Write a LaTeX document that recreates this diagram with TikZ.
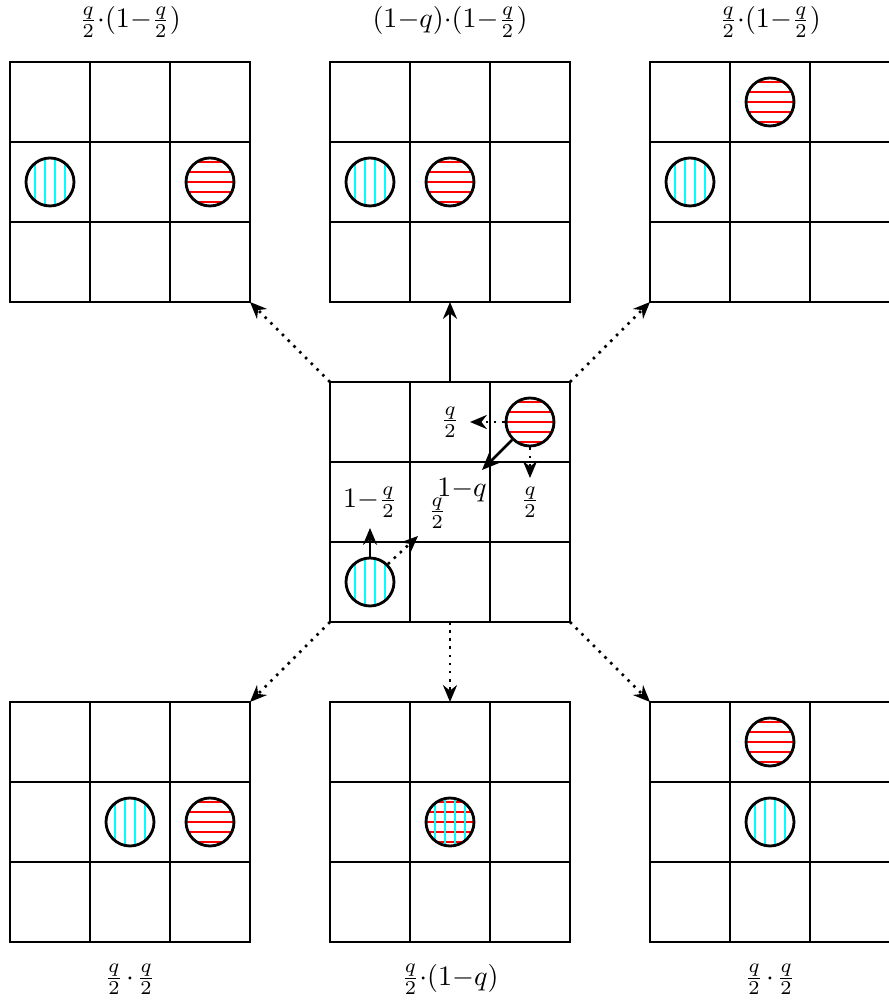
\documentclass[tikz,border=0pt]{standalone}
\usetikzlibrary{arrows.meta,positioning,calc}
\definecolor{hatchcyan}{RGB}{0,255,255}
\definecolor{hatchred}{RGB}{255,0,0}

\begin{document}
\begin{tikzpicture}[
  >={Stealth[length=6pt,width=5pt]},
  board/.style={draw=black, line width=1pt, rectangle, minimum size=3cm, inner sep=0pt, outer sep=0pt},
  boardlines/.style={draw=black, line width=1pt, step=1cm},
  ball/.style={circle, draw=black, line width=1pt, minimum size=0.6cm, inner sep=0pt},
  blueball/.style={ball, path picture={
      \foreach \k in {-0.1875,-0.0625,0.0625,0.1875}
        \draw[hatchcyan, line width=0.6pt] ([xshift=\k cm]path picture bounding box.south) -- ([xshift=\k cm]path picture bounding box.north);}},
  redball/.style={ball, path picture={
      \foreach \k in {-0.25,-0.125,0,0.125,0.25}
        \draw[hatchred, line width=0.6pt] ([yshift=\k cm]path picture bounding box.west) -- ([yshift=\k cm]path picture bounding box.east);}},
  bothball/.style={ball, path picture={
      \foreach \k in {-0.25,-0.125,0,0.125,0.25}
        \draw[hatchred, line width=0.6pt] ([yshift=\k cm]path picture bounding box.west) -- ([yshift=\k cm]path picture bounding box.east);
      \foreach \k in {-0.1875,-0.0625,0.0625,0.1875}
        \draw[hatchcyan, line width=0.6pt] ([xshift=\k cm]path picture bounding box.south) -- ([xshift=\k cm]path picture bounding box.north);}},
  move/.style={->, draw=black, line width=0.9pt},
  dotmove/.style={->, draw=black, line width=0.9pt, dotted},
  prob/.style={font=\normalsize, inner sep=1pt}
]
\useasboundingbox (-0.125,-0.7875) rectangle (10.975,11.775);

\node[board] (c) at (5.5,5.5) {};
\node[board, above left=1cm and 1cm of c] (tl) {};
\node[board, above=1cm of c] (tm) {};
\node[board, above right=1cm and 1cm of c] (tr) {};
\node[board, below left=1cm and 1cm of c] (bl) {};
\node[board, below=1cm of c] (bm) {};
\node[board, below right=1cm and 1cm of c] (br) {};

\foreach \b in {tl,tm,tr,c,bl,bm,br}
  \draw[boardlines] (\b.south west) grid (\b.north east);

\node[blueball] (tlb) at ($(tl.south west)+(0.5,1.5)$) {};
\node[redball] (tlr) at ($(tl.south west)+(2.5,1.5)$) {};
\node[blueball] (tmb) at ($(tm.south west)+(0.5,1.5)$) {};
\node[redball] (tmr) at ($(tm.south west)+(1.5,1.5)$) {};
\node[blueball] (trb) at ($(tr.south west)+(0.5,1.5)$) {};
\node[redball] (trr) at ($(tr.south west)+(1.5,2.5)$) {};
\node[blueball] (cb) at ($(c.south west)+(0.5,0.5)$) {};
\node[redball] (cr) at ($(c.south west)+(2.5,2.5)$) {};
\node[blueball] (blb) at ($(bl.south west)+(1.5,1.5)$) {};
\node[redball] (blr) at ($(bl.south west)+(2.5,1.5)$) {};
\node[bothball] (bmm) at ($(bm.south west)+(1.5,1.5)$) {};
\node[blueball] (brb) at ($(br.south west)+(1.5,1.5)$) {};
\node[redball] (brr) at ($(br.south west)+(1.5,2.5)$) {};

\node[prob] (ptl) at ($(tl.north)+(0,0.5)$) {$\frac{q}{2}{\cdot}(1{-}\frac{q}{2})$};
\node[prob] (ptm) at ($(tm.north)+(0,0.5)$) {$(1{-}q){\cdot}(1{-}\frac{q}{2})$};
\node[prob] (ptr) at ($(tr.north)+(0,0.5)$) {$\frac{q}{2}{\cdot}(1{-}\frac{q}{2})$};
\node[prob] (pbl) at ($(bl.south)+(0,-0.47)$) {$\frac{q}{2}\mkern-2mu\cdot\mkern-2mu\frac{q}{2}$};
\node[prob] (pbm) at ($(bm.south)+(0,-0.47)$) {$\frac{q}{2}{\cdot}(1{-}q)$};
\node[prob] (pbr) at ($(br.south)+(0,-0.47)$) {$\frac{q}{2}\mkern-2mu\cdot\mkern-2mu\frac{q}{2}$};

\coordinate (rleft) at ($(c.south west)+(1.75,2.5)$);
\coordinate (rdiag) at ($(c.south west)+(1.9,1.9)$);
\coordinate (rdown) at ($(c.south west)+(2.5,1.8)$);
\coordinate (bup) at ($(c.south west)+(0.5,1.175)$);
\coordinate (bdiag) at ($(c.south west)+(1.1,1.075)$);

\draw[dotmove] (cr.west) -- (rleft);
\draw[move] (cr.225) -- (rdiag);
\draw[dotmove] (cr.south) -- (rdown);
\draw[move] (cb.north) -- (bup);
\draw[dotmove] (cb.45) -- (bdiag);

\node[prob] (lrleft) at ($(c.south west)+(1.5,2.5)$) {$\frac{q}{2}$};
\node[prob] (lrdiag) at ($(c.south west)+(1.65,1.65)$) {$1{-}q$};
\node[prob] (lrdown) at ($(c.south west)+(2.5,1.5)$) {$\frac{q}{2}$};
\node[prob] (lbup) at ($(c.south west)+(0.5,1.5)$) {$1{-}\frac{q}{2}$};
\node[prob] (lbdiag) at ($(c.south west)+(1.34,1.36)$) {$\frac{q}{2}$};

\draw[dotmove] (c.north west) -- (tl.south east);
\draw[move] (c.north) -- (tm.south);
\draw[dotmove] (c.north east) -- (tr.south west);
\draw[dotmove] (c.south west) -- (bl.north east);
\draw[dotmove] (c.south) -- (bm.north);
\draw[dotmove] (c.south east) -- (br.north west);

\end{tikzpicture}
\end{document}
